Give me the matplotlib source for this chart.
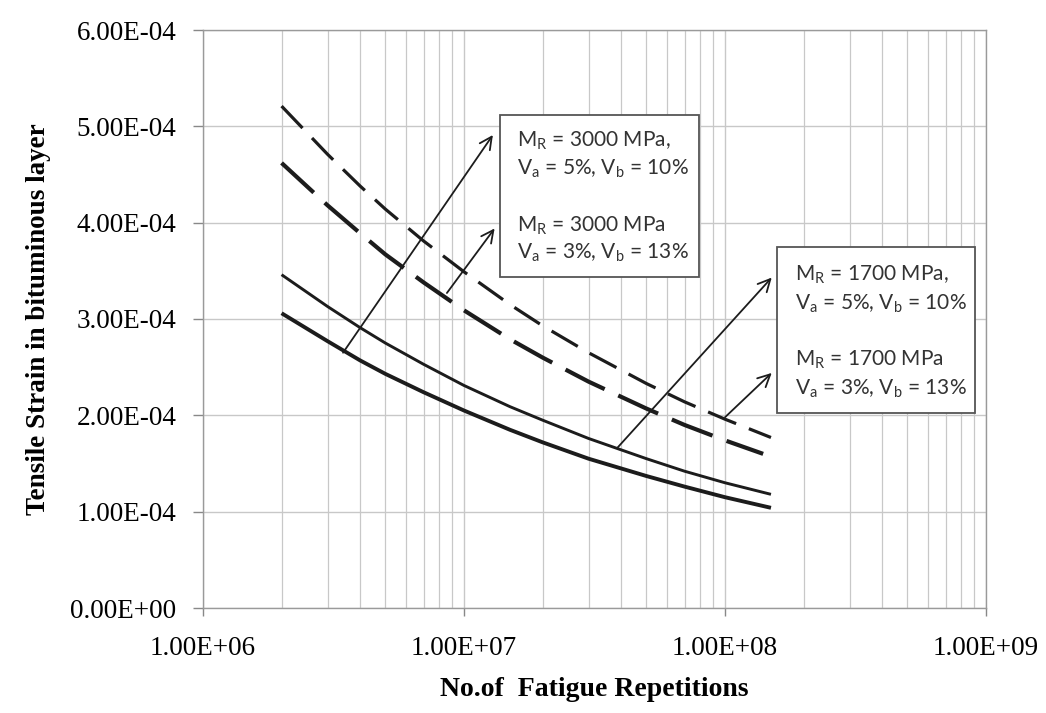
import matplotlib
matplotlib.use("Agg")
import matplotlib.pyplot as plt
from matplotlib.patches import Rectangle
from matplotlib.ticker import FixedLocator, LogLocator, NullFormatter

# Fatigue repetitions (x) and tensile strain in the bituminous layer (y)
reps = [2e6, 3e6, 4e6, 5e6, 7e6, 1e7, 1.5e7, 2e7, 3e7, 5e7, 7e7, 1e8, 1.5e8]
reps_short = [2e6, 3e6, 4e6, 5e6, 7e6, 1e7, 1.5e7, 2e7, 3e7, 5e7, 7e7, 1e8, 1.4e8]

strain_1700_va5 = [3.46e-4, 3.13e-4, 2.91e-4, 2.75e-4, 2.53e-4, 2.31e-4, 2.09e-4,
                   1.95e-4, 1.76e-4, 1.55e-4, 1.42e-4, 1.30e-4, 1.18e-4]
strain_3000_va5 = [3.06e-4, 2.77e-4, 2.57e-4, 2.43e-4, 2.24e-4, 2.05e-4, 1.85e-4,
                   1.72e-4, 1.55e-4, 1.37e-4, 1.26e-4, 1.15e-4, 1.04e-4]
strain_1700_va3 = [5.21e-4, 4.71e-4, 4.38e-4, 4.14e-4, 3.81e-4, 3.49e-4, 3.15e-4,
                   2.93e-4, 2.65e-4, 2.33e-4, 2.14e-4, 1.96e-4, 1.77e-4]
strain_3000_va3 = [4.62e-4, 4.18e-4, 3.89e-4, 3.67e-4, 3.38e-4, 3.09e-4, 2.79e-4,
                   2.60e-4, 2.35e-4, 2.07e-4, 1.90e-4, 1.74e-4, 1.60e-4]

x_ticks = [1e6, 1e7, 1e8, 1e9]
x_tick_labels = ["1.00E+06", "1.00E+07", "1.00E+08", "1.00E+09"]
y_ticks = [0, 1e-4, 2e-4, 3e-4, 4e-4, 5e-4, 6e-4]
y_tick_labels = ["%.2E" % v for v in y_ticks]

box_3000 = [r"M$_\mathregular{R}$ = 3000 MPa,",
            r"V$_\mathregular{a}$ = 5%, V$_\mathregular{b}$ = 10%",
            r"M$_\mathregular{R}$ = 3000 MPa",
            r"V$_\mathregular{a}$ = 3%, V$_\mathregular{b}$ = 13%"]
box_1700 = [r"M$_\mathregular{R}$ = 1700 MPa,",
            r"V$_\mathregular{a}$ = 5%, V$_\mathregular{b}$ = 10%",
            r"M$_\mathregular{R}$ = 1700 MPa",
            r"V$_\mathregular{a}$ = 3%, V$_\mathregular{b}$ = 13%"]

W, H = 1046, 713
fig = plt.figure(figsize=(W / 100, H / 100), dpi=100)
fig.patch.set_facecolor("white")
ax = fig.add_axes([203 / W, 1 - 608 / H, (986 - 203) / W, (608 - 30) / H])

ax.set_xscale("log")
ax.set_xlim(1e6, 1e9)
ax.set_ylim(0, 6e-4)

serif = "Liberation Serif"
ax.xaxis.set_major_locator(FixedLocator(x_ticks))
ax.set_xticklabels(x_tick_labels, fontfamily=serif, fontsize=19.5)
ax.xaxis.set_minor_locator(LogLocator(base=10, subs=range(2, 10)))
ax.xaxis.set_minor_formatter(NullFormatter())
ax.set_yticks(y_ticks)
ax.set_yticklabels(y_tick_labels, fontfamily=serif, fontsize=19.5)

ax.tick_params(axis="x", which="major", length=6, width=1, color="#888888", pad=14)
ax.tick_params(axis="x", which="minor", length=0)
ax.tick_params(axis="y", which="major", length=7, width=1, color="#888888", pad=12)

grid_col = "#c8c8c8"
ax.grid(True, which="major", axis="both", color=grid_col, lw=1.0)
ax.grid(True, which="minor", axis="x", color=grid_col, lw=0.9)
ax.set_axisbelow(True)
for s in ax.spines.values():
    s.set_color("#9a9a9a")
    s.set_linewidth(1.0)

ax.set_xlabel("No.of  Fatigue Repetitions", fontfamily=serif, fontweight="bold",
              fontsize=20, labelpad=12)
ax.set_ylabel("Tensile Strain in bituminous layer", fontfamily=serif,
              fontweight="bold", fontsize=19.5, labelpad=14)

ink = "#1c1c1c"
ax.plot(reps, strain_1700_va5, color=ink, lw=2.1, solid_capstyle="butt", zorder=3)
ax.plot(reps, strain_3000_va5, color=ink, lw=2.8, solid_capstyle="butt", zorder=3)
ax.plot(reps, strain_1700_va3, color=ink, lw=2.3, dashes=(9.5, 4.3),
        dash_capstyle="butt", zorder=3)
ax.plot(reps_short, strain_3000_va3, color=ink, lw=3.0, dashes=(10.5, 3.6),
        dash_capstyle="butt", zorder=3)

# Callout arrows from the curves to the description boxes
arrow_kw = dict(arrowstyle="->", lw=1.3, color=ink, shrinkA=0, shrinkB=0,
                mutation_scale=22)
ax.annotate("", xy=(1.29e7, 4.91e-4), xytext=(3.44e6, 2.65e-4), arrowprops=arrow_kw, zorder=4)
ax.annotate("", xy=(1.31e7, 3.94e-4), xytext=(8.6e6, 3.27e-4), arrowprops=arrow_kw, zorder=4)
ax.annotate("", xy=(1.51e8, 3.43e-4), xytext=(3.86e7, 1.66e-4), arrowprops=arrow_kw, zorder=4)
ax.annotate("", xy=(1.51e8, 2.44e-4), xytext=(1.0e8, 1.98e-4), arrowprops=arrow_kw, zorder=4)


def draw_box(x0, y0, w, h, lines, tx, tys):
    ax.add_patch(Rectangle((x0, y0), w, h, transform=ax.transAxes, facecolor="white",
                           edgecolor="#555555", lw=1.3, zorder=5))
    for txt, ty in zip(lines, tys):
        ax.text(tx, ty, txt, transform=ax.transAxes, fontfamily="Lato", fontsize=15,
                color="#333333", va="baseline", ha="left", zorder=6)


draw_box(0.379, 0.573, 0.254, 0.280, box_3000, 0.401, [0.799, 0.751, 0.652, 0.604])
draw_box(0.733, 0.337, 0.253, 0.287, box_1700, 0.756, [0.566, 0.517, 0.419, 0.370])

fig.savefig("out.png", dpi=100)
